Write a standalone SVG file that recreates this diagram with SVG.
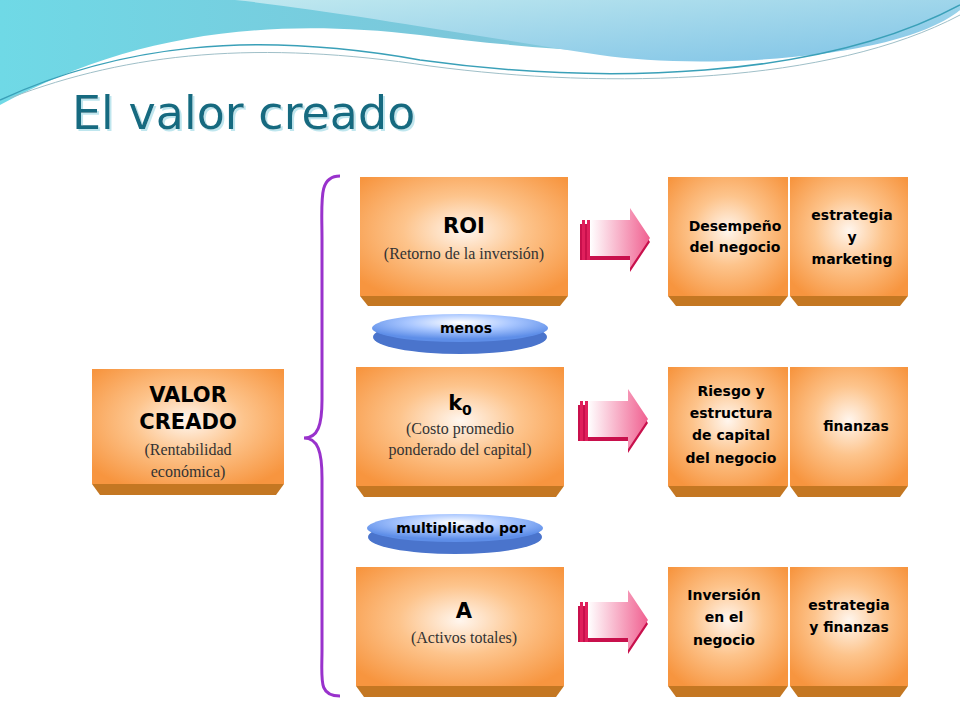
<svg xmlns="http://www.w3.org/2000/svg" width="960" height="720" viewBox="0 0 960 720">
<defs>
<radialGradient id="og" cx="50%" cy="45%" r="65%"><stop offset="0" stop-color="#fff6ee"/><stop offset="0.45" stop-color="#fdc48c"/><stop offset="1" stop-color="#f7953f"/></radialGradient>
<linearGradient id="bg1" x1="0" y1="0" x2="1" y2="0"><stop offset="0" stop-color="#6fd9e6"/><stop offset="0.5" stop-color="#7cc6da"/><stop offset="1" stop-color="#a6e0ea"/></linearGradient>
<linearGradient id="bg2" x1="0" y1="0" x2="1" y2="1"><stop offset="0" stop-color="#bfe8ef"/><stop offset="1" stop-color="#7fc3e6"/></linearGradient>
<radialGradient id="eg" cx="50%" cy="30%" r="60%"><stop offset="0" stop-color="#ffffff"/><stop offset="0.5" stop-color="#a8c6ff"/><stop offset="1" stop-color="#5e8ee8"/></radialGradient>
<linearGradient id="ag" x1="0" y1="0" x2="1" y2="0"><stop offset="0" stop-color="#ffffff"/><stop offset="1" stop-color="#f06090"/></linearGradient>
<filter id="sh" x="-5%" y="-20%" width="110%" height="140%"><feDropShadow dx="2" dy="2" stdDeviation="0" flood-color="#bfe6ee"/></filter>
<g id="arrow">
<polygon points="0,12 50,12 50,0 70,30 50,60 50,48 0,48" fill="#c8104c"/>
<polygon points="10,8 50,8 50,-4 70,26 50,56 50,44 10,44" fill="url(#ag)"/>
<rect x="2" y="8" width="3" height="40" fill="#e0205c"/>
<rect x="7" y="8" width="3" height="40" fill="#e0205c"/>
</g>
</defs>
<style>
.box{fill:url(#og)}
.dep{fill:#c47722}
.b{font-family:"DejaVu Sans",sans-serif;font-weight:bold;fill:#000;text-anchor:middle}
.s{font-family:"Liberation Serif",serif;fill:#333;text-anchor:middle;font-size:16px}
</style>
<rect width="960" height="720" fill="#fff"/>
<g id="header">
<path d="M0,0 H960 V10 C860,70 620,60 420,35 C250,15 120,40 0,105 Z" fill="url(#bg1)"/>
<path d="M235,0 H960 V10 C900,60 700,70 600,55 C470,35 330,10 235,0 Z" fill="url(#bg2)"/>
<path d="M0,100 C120,45 250,30 420,60 C600,85 820,80 960,5" fill="none" stroke="#3aa0b8" stroke-width="1.5"/>
<path d="M10,98 C130,52 260,40 430,66 C610,90 830,84 960,15" fill="none" stroke="#9fbfc8" stroke-width="1"/>
<text x="72" y="129" font-family="DejaVu Sans,sans-serif" font-size="46" fill="#176b80" filter="url(#sh)">El valor creado</text>
</g>
<g id="valor">
<rect class="box" x="92" y="369" width="192" height="115"/><polygon class="dep" points="92,484 284,484 276,495 100,495"/>
<text class="b" x="188" y="402" font-size="21">VALOR</text><text class="b" x="188" y="429" font-size="21">CREADO</text>
<text class="s" x="188" y="455">(Rentabilidad</text><text class="s" x="188" y="477">económica)</text>
</g>
<g id="connectors">
<path d="M340,176 C318,176 322,200 322,240 L322,400 C322,425 318,438 304,438 C318,438 322,452 322,478 L322,650 C322,680 318,696 340,696" fill="none" stroke="#9932cc" stroke-width="3"/>
<use href="#arrow" x="580" y="212"/>
<use href="#arrow" x="578" y="393"/>
<use href="#arrow" x="578" y="594"/>
</g>
<g id="roi">
<rect class="box" x="360" y="177" width="208" height="119"/><polygon class="dep" points="360,296 568,296 560,306 368,306"/>
<text class="b" x="464" y="233" font-size="21">ROI</text><text class="s" x="464" y="259">(Retorno de la inversión)</text>
</g>
<g id="menos">
<ellipse cx="460" cy="337" rx="87" ry="17" fill="#4a74cc"/><ellipse cx="460" cy="328" rx="88" ry="14" fill="url(#eg)"/>
<text class="b" x="466" y="333" font-size="14">menos</text>
</g>
<g id="k0">
<rect class="box" x="356" y="367" width="208" height="119"/><polygon class="dep" points="356,486 564,486 556,497 364,497"/>
<text class="b" x="460" y="410" font-size="21">k<tspan font-size="14" dy="5">0</tspan></text>
<text class="s" x="460" y="434">(Costo promedio</text><text class="s" x="460" y="455">ponderado del capital)</text>
</g>
<g id="mult">
<ellipse cx="455" cy="537" rx="87" ry="17" fill="#4a74cc"/><ellipse cx="455" cy="528" rx="88" ry="14" fill="url(#eg)"/>
<text class="b" x="461" y="533" font-size="14">multiplicado por</text>
</g>
<g id="a">
<rect class="box" x="356" y="567" width="208" height="119"/><polygon class="dep" points="356,686 564,686 556,697 364,697"/>
<text class="b" x="464" y="618" font-size="21">A</text><text class="s" x="464" y="643">(Activos totales)</text>
</g>
<g id="r1a"><rect class="box" x="668" y="177" width="120" height="119"/><polygon class="dep" points="668,296 788,296 780,306 676,306"/>
<text class="b" x="735" y="231" font-size="14">Desempeño</text><text class="b" x="735" y="252" font-size="14">del negocio</text></g>
<g id="r1b"><rect class="box" x="790" y="177" width="118" height="119"/><polygon class="dep" points="790,296 908,296 900,306 798,306"/>
<text class="b" x="852" y="220" font-size="14">estrategia</text><text class="b" x="852" y="242" font-size="14">y</text><text class="b" x="852" y="264" font-size="14">marketing</text></g>
<g id="r2a"><rect class="box" x="668" y="367" width="120" height="119"/><polygon class="dep" points="668,486 788,486 780,497 676,497"/>
<text class="b" x="731" y="396" font-size="14">Riesgo y</text><text class="b" x="731" y="418" font-size="14">estructura</text><text class="b" x="731" y="440" font-size="14">de capital</text><text class="b" x="731" y="463" font-size="14">del negocio</text></g>
<g id="r2b"><rect class="box" x="790" y="367" width="118" height="119"/><polygon class="dep" points="790,486 908,486 900,497 798,497"/>
<text class="b" x="856" y="431" font-size="14">finanzas</text></g>
<g id="r3a"><rect class="box" x="668" y="567" width="120" height="119"/><polygon class="dep" points="668,686 788,686 780,697 676,697"/>
<text class="b" x="724" y="600" font-size="14">Inversión</text><text class="b" x="724" y="622" font-size="14">en el</text><text class="b" x="724" y="645" font-size="14">negocio</text></g>
<g id="r3b"><rect class="box" x="790" y="567" width="118" height="119"/><polygon class="dep" points="790,686 908,686 900,697 798,697"/>
<text class="b" x="849" y="610" font-size="14">estrategia</text><text class="b" x="849" y="632" font-size="14">y finanzas</text></g>
</svg>
